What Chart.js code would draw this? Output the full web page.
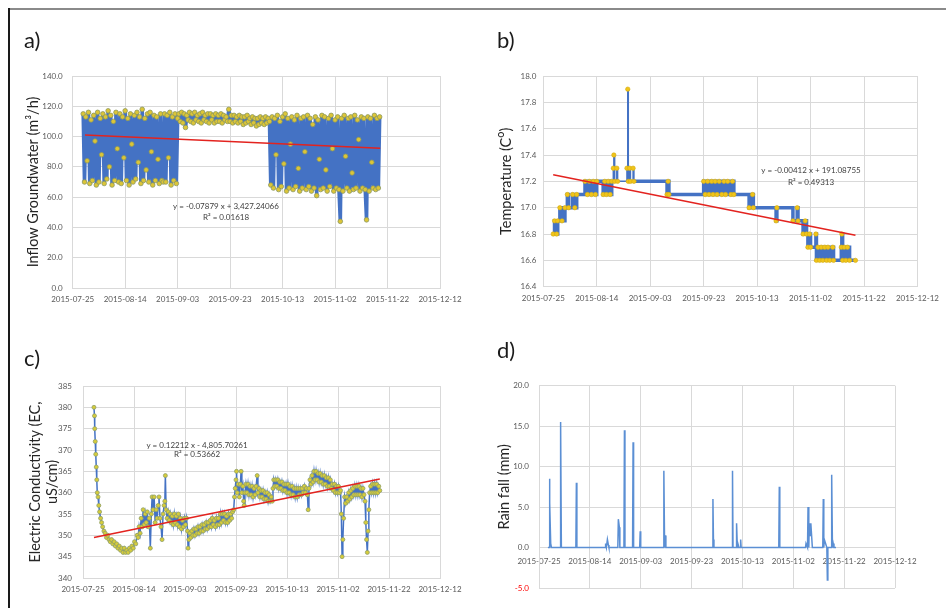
<!DOCTYPE html>
<html><head><meta charset="utf-8">
<script src="https://cdn.jsdelivr.net/npm/chart.js@4.4.1/dist/chart.umd.min.js"></script>
<style>
html,body{margin:0;padding:0;background:#fff;}
#wrap{position:relative;width:946px;height:608px;overflow:hidden;background:#fff;}
.cv{position:absolute;}
.lbl{position:absolute;font-family:Lato,'Open Sans',sans-serif;font-size:22px;color:#1a1a1a;line-height:22px;}
#topline{position:absolute;left:8px;top:8px;width:938px;height:2px;background:#8a8a8a;}
#leftline{position:absolute;left:8px;top:8px;width:2px;height:600px;background:#1a1a1a;}
</style></head><body>
<div id="wrap">
<div id="topline"></div><div id="leftline"></div>
<canvas class="cv" id="ca" width="473" height="320" style="left:0;top:0"></canvas>
<canvas class="cv" id="cb" width="473" height="320" style="left:473px;top:0"></canvas>
<canvas class="cv" id="cc" width="473" height="288" style="left:0;top:320px"></canvas>
<canvas class="cv" id="cd" width="473" height="288" style="left:473px;top:320px"></canvas>
<div class="lbl" style="left:24px;top:29px">a)</div>
<div class="lbl" style="left:497px;top:29px">b)</div>
<div class="lbl" style="left:24px;top:347px">c)</div>
<div class="lbl" style="left:497px;top:339px">d)</div>
</div>
<script>
// ---------- DATA ----------
// x values are days after 2015-07-25
const xTickLabels = ['2015-07-25','2015-08-14','2015-09-03','2015-09-23','2015-10-13','2015-11-02','2015-11-22','2015-12-12'];

// a) Inflow groundwater (m3/h), sampled every half day from day 4
const inflowStartDay = 4;
const inflowStepDays = 0.5;
const inflowValues = [
  115, 70, 113, 84, 116, 69, 111, 71, 114, 97,
  68, 116, 70, 112, 88, 115, 69, 113, 72, 117,
  80, 114, 68, 110, 71, 116, 92, 70, 115, 69,
  113, 86, 117, 71, 112, 68, 115, 95, 70, 114,
  72, 116, 83, 113, 69, 118, 71, 112, 78, 115,
  70, 116, 90, 68, 114, 71, 113, 85, 69, 115,
  71, 70,
  115, 70, 114, 86, 116, 68, 113, 71, 115, 69, 112,
  115, 110, 116, 109, 115, 106, 114, 111, 116, 110,
  115, 109, 116, 111, 114, 110, 115, 109, 116, 111,
  114, 110, 115, 109, 115, 111, 114, 109, 115, 110,
  114, 110, 115, 109, 114, 111, 113, 110, 118, 110,
  114, 109, 114, 110, 113, 109, 114, 110, 113, 108,
  113, 109, 114, 110, 112, 108, 113, 109, 112, 107,
  112, 108, 113, 109, 112, 108, 113, 109, 112, 110,
  68, 113, 66, 112, 88, 114, 65, 110, 67, 113,
  82, 115, 64, 112, 66, 95, 113, 65, 111, 67,
  114, 79, 64, 112, 66, 113, 90, 65, 114, 67,
  112, 64, 108, 66, 113, 61, 111, 85, 65, 114,
  66, 113, 78, 64, 112, 67, 114, 92, 64, 111,
  66, 113, 65, 44, 112, 64, 114, 87, 66, 112,
  64, 113, 76, 65, 114, 66, 111, 98, 64, 113,
  66, 112, 65, 45, 113, 64, 112, 83, 66, 114,
  65, 112, 66, 113
];
const inflowTrendDays = [4.7, 117.2];
const inflowTrendValues = [101.1, 92.3];

// b) Temperature (C), change points of a step series
const tempDays = [
  3.7, 4.2, 5.0, 5.4, 6.2, 7.0, 8.1, 9.0, 9.5, 11.0,
  11.8, 12.5, 15.6, 16.5, 17.2, 18.0, 18.7, 19.5, 20.0, 22.4,
  23.0, 23.6, 24.3, 25.0, 25.6, 26.2, 26.4, 26.7, 27.5, 27.8,
  31.3, 31.6, 31.8, 32.3, 32.6, 33.6, 33.9, 46.3, 46.7, 47.0,
  60.0, 60.6, 61.5, 62.0, 63.0, 63.5, 64.3, 65.0, 65.8, 66.8,
  67.6, 68.2, 69.0, 70.2, 70.8, 71.3, 77.0, 78.3, 78.6, 87.1,
  87.4, 93.4, 95.0, 95.3, 97.2, 98.0, 98.5, 99.0, 99.6, 100.0,
  102.0, 102.2, 102.8, 103.4, 104.0, 104.6, 105.3, 106.0, 106.5, 107.2,
  108.3, 108.6, 111.5, 111.7, 112.0, 112.6, 113.2, 113.8, 114.6, 116.8
];
const tempValues = [
  16.8, 16.9, 16.8, 16.9, 17.0, 16.9, 17.0, 17.1, 17.0, 17.1,
  17.0, 17.1, 17.2, 17.1, 17.2, 17.1, 17.2, 17.1, 17.2, 17.1,
  17.2, 17.1, 17.2, 17.1, 17.2, 17.3, 17.4, 17.2, 17.3, 17.2,
  17.3, 17.9, 17.2, 17.3, 17.2, 17.3, 17.2, 17.1, 17.2, 17.1,
  17.2, 17.1, 17.2, 17.1, 17.2, 17.1, 17.2, 17.1, 17.2, 17.1,
  17.2, 17.1, 17.2, 17.1, 17.2, 17.1, 17.0, 17.1, 17.0, 16.9,
  17.0, 16.9, 17.0, 16.9, 16.8, 16.9, 16.8, 16.7, 16.8, 16.7,
  16.8, 16.6, 16.7, 16.6, 16.7, 16.6, 16.7, 16.6, 16.7, 16.6,
  16.7, 16.6, 16.7, 16.8, 16.6, 16.7, 16.6, 16.7, 16.6, 16.6
];
const tempTrendDays = [3.7, 116.8];
const tempTrendValues = [17.25, 16.79];

// c) Electric conductivity (uS/cm) readings: [day, value]
const ecReadings = [
  [4.3,380],[4.5,378],[4.6,375],[4.8,372],[5.0,369],[5.2,366],[5.4,363],[5.6,360],[5.9,359],[6.2,357],
  [6.5,355.5],[6.9,354],[7.3,353],[7.7,352],[8.2,351],[8.7,350.5],[9.2,349.5],[9.7,350],[10.2,349],[10.7,348.5],
  [11.2,349],[11.7,348],[12.2,348.5],[12.7,347.5],[13.2,348],[13.7,347],[14.2,347.5],[14.7,346.5],[15.2,347],[15.7,346],
  [16.2,347],[16.7,346],[17.2,346.5],[17.7,346],[18.2,347],[18.7,346.5],[19.2,347.5],[19.7,347],[20.2,348.5],[20.7,348],
  [21.2,350],[21.6,349.5],[22.0,352],[22.4,350.5],[22.8,354],[23.2,352],[23.6,356],[24.0,352.5],[24.4,355],[24.8,353],
  [25.2,355.5],[25.6,352],[26.0,354],[26.4,347],[26.8,355],[27.1,359],[27.5,356],[27.9,359],[28.3,353],[28.7,356],
  [29.1,354],[29.5,357],[29.8,359],[30.2,354],[30.6,352],[31.0,349],[31.4,355],[31.8,357],[32.1,358],[32.3,364],
  [32.6,356],[33.0,354],[33.4,355.5],[33.8,353.5],[34.2,355],[34.6,353],[35.0,354.5],[35.4,352.5],[35.8,355],[36.2,353],
  [36.6,354.5],[37.0,352.5],[37.4,355],[37.8,352],[38.2,354],[38.6,351.5],[39.0,353.5],[39.4,352],[39.8,354],[40.2,352.5],
  [40.6,354],[41.0,351],[41.2,347],[41.5,349],[41.9,350.5],[42.3,349.5],[42.7,351],[43.1,350],[43.5,351.5],[43.9,350],
  [44.3,351.5],[44.7,350.5],[45.1,352],[45.5,350.5],[45.9,352],[46.3,351],[46.7,352.5],[47.1,351],[47.5,352.5],[47.9,351.5],
  [48.3,353],[48.7,351.5],[49.1,353],[49.5,352],[49.9,353.5],[50.3,352],[50.7,354],[51.1,352.5],[51.5,353.5],[51.9,352],
  [52.3,354],[52.7,352.5],[53.1,354],[53.5,352.5],[53.9,355],[54.3,353],[54.7,355],[55.1,353.5],[55.5,355],[55.9,353],
  [56.3,354.5],[56.7,353],[57.1,355],[57.5,353.5],[57.9,355],[58.3,354],[58.7,355.5],[59.1,356],[59.4,359],[59.7,361],
  [60.0,363],[60.2,365],[60.5,360],[60.9,362],[61.3,359],[61.7,362],[62.0,365],[62.3,360],[62.7,361.5],[63.0,358],
  [63.2,357],[63.5,360],[63.9,362],[64.3,360],[64.7,362],[65.1,359.5],[65.5,361.5],[65.9,359.5],[66.3,361.5],[66.7,359],
  [67.1,361],[67.5,359.5],[67.9,361.5],[68.3,364],[68.6,360],[69.0,361],[69.4,359],[69.8,360.5],[70.2,359],[70.6,360.5],
  [71.0,358.5],[71.4,360],[71.8,358.5],[72.2,360],[72.6,358],[73.0,359.5],[73.4,358],[73.8,359],[74.2,358],[74.5,361],
  [74.8,363],[75.2,361.5],[75.6,363],[76.0,361.5],[76.4,363],[76.8,361],[77.2,362.5],[77.6,361],[78.0,362.5],[78.4,360.5],
  [78.8,362],[79.2,360.5],[79.6,362],[80.0,360],[80.4,362],[80.8,360],[81.2,361.5],[81.6,359.5],[82.0,361.5],[82.4,359.5],
  [82.8,361],[83.2,359],[83.6,361],[84.0,359],[84.4,361],[84.8,359.5],[85.2,361],[85.6,359.5],[86.0,361],[86.4,360],
  [86.8,361.5],[87.2,360],[87.6,361],[88.0,359.5],[88.3,356],[88.6,361],[89.0,363],[89.4,362],[89.8,364],[90.2,362.5],
  [90.6,365],[91.0,363],[91.4,365],[91.8,363],[92.2,364.5],[92.6,362.5],[93.0,364.5],[93.4,362.5],[93.8,364],[94.2,362],
  [94.6,364],[95.0,362],[95.4,363.5],[95.8,361.5],[96.2,363.5],[96.6,361.5],[97.0,363],[97.4,361],[97.8,362],[98.2,360.5],
  [98.6,362],[99.0,360],[99.4,361.5],[99.8,360],[100.2,361.5],[100.6,360],[101.0,360.5],[101.3,355],[101.6,345],[101.9,349],
  [102.2,354],[102.6,359],[103.0,357.5],[103.4,359],[103.8,358],[104.2,360],[104.6,358.5],[105.0,360.5],[105.4,359],[105.8,361],
  [106.2,359.5],[106.6,361.5],[107.0,359.5],[107.4,361.5],[107.8,359.5],[108.2,361.5],[108.6,359.5],[109.0,361],[109.4,359],[109.8,361],
  [110.2,359.5],[110.6,358],[110.9,353],[111.2,349],[111.5,346],[111.8,351],[112.1,356],[112.4,360],[112.8,361.5],[113.2,360],
  [113.6,362],[114.0,360],[114.4,362],[114.8,360],[115.2,362],[115.6,360],[116.0,361.5],[116.4,360.5]
];
const ecTrendDays = [4.3, 116.4];
const ecTrendValues = [349.5, 363.2];

// d) Rain fall (mm)
const rainDays = [
  3.5, 4.0, 4.1, 4.3, 4.6, 4.9,
  8.3, 8.5, 8.8,
  14.5, 14.7, 14.9,
  26.0, 26.2, 26.5, 26.9, 27.3, 27.5,
  31.0, 31.2, 31.6, 31.8,
  33.4, 33.6, 33.8,
  36.8, 37.0, 37.2,
  39.6, 39.8, 40.0,
  48.9, 49.1, 49.4, 49.7, 49.9,
  68.2, 68.4, 68.6, 68.8,
  75.9, 76.1, 76.3, 77.5, 77.7, 78.0, 78.2, 78.6, 79.1, 79.3, 79.5,
  94.3, 94.5, 94.7,
  104.8, 105.0, 105.6, 105.8, 106.1, 106.3, 106.6, 106.9, 107.3, 107.5,
  111.6, 111.8, 112.0, 112.2, 112.7, 113.2, 113.4, 113.6,
  114.9, 115.1, 115.4, 115.7, 116.0, 116.8
];
const rainValues = [
  0, 0, 8.5, 5.5, 0.5, 0,
  0, 15.5, 0,
  0, 8.0, 0,
  0, 0.5, 0, 1.0, 0.3, 0,
  0, 3.5, 2.5, 0,
  0, 14.5, 0,
  0, 13.0, 0,
  0, 2.0, 0,
  0, 9.5, 0, 1.5, 0,
  0, 6.0, 1.0, 0,
  0, 9.5, 0, 0, 3.0, 0, 0.5, 0, 0, 1.0, 0,
  0, 7.5, 0,
  0, 0.5, 0, 5.0, 0, 3.0, 1.5, 3.0, 1.0, 0,
  0, 6.0, 0, 1.0, 0.5, 0, -4.0, 0,
  0, 9.0, 0, 0.5, 0, 0
];

// ---------- RENDER ----------
const FONT = 'Lato, "Open Sans", sans-serif';
const pts = (xs, ys) => xs.map((x, i) => ({x: x, y: ys[i]}));

const eqPlugin = {
  id: 'eqText',
  afterDatasetsDraw(chart, args, opts) {
    if (!opts.lines || !opts.lines.length) return;
    const ctx = chart.ctx;
    ctx.save();
    ctx.font = '8px ' + FONT;
    ctx.fillStyle = '#404040';
    ctx.textAlign = 'center';
    ctx.textBaseline = 'middle';
    opts.lines.forEach(l => ctx.fillText(l.text, l.x, l.y));
    ctx.restore();
  }
};
Chart.register(eqPlugin);

function makeOptions(cfg) {
  return {
    responsive: false, animation: false, events: [],
    layout: { padding: cfg.padding },
    plugins: { legend: {display: false}, tooltip: {enabled: false}, eqText: { lines: cfg.eq || [] } },
    scales: {
      x: {
        type: 'linear', min: 0, max: 140, position: cfg.xPos || 'bottom',
        ticks: { stepSize: 20, autoSkip: false, maxRotation: 0, padding: cfg.xPad, color: '#595959',
                 font: {family: FONT, size: 8}, callback: v => xTickLabels[Math.round(v / 20)] || '' },
        grid: { color: '#d9d9d9', drawTicks: false },
        border: { color: '#d9d9d9' },
        afterFit: s => { s.height = cfg.xH; }
      },
      y: {
        type: 'linear', min: cfg.yMin, max: cfg.yMax,
        ticks: { stepSize: cfg.yStep, padding: cfg.yPad, color: cfg.yColor || '#595959',
                 font: {family: FONT, size: 8}, callback: cfg.yFmt },
        grid: { color: '#d9d9d9', drawTicks: false },
        border: { color: '#d9d9d9' },
        title: { display: true, text: cfg.title, color: '#262626',
                 font: {family: FONT, size: 14.5}, padding: {top: cfg.titlePad, bottom: 0} },
        afterFit: s => { s.width = cfg.yW; }
      }
    }
  };
}

const BLUE = '#4472c4';
const RED = '#e3231f';

// a)
const inflowDays = inflowValues.map((v, i) => inflowStartDay + i * inflowStepDays);
new Chart(document.getElementById('ca'), {
  type: 'line',
  data: { datasets: [
    { data: pts(inflowTrendDays, inflowTrendValues), borderColor: RED, borderWidth: 1.5, pointRadius: 0 },
    { data: pts(inflowDays, inflowValues), borderColor: BLUE, borderWidth: 3.6, borderJoinStyle: 'bevel',
      pointRadius: 2.3, pointBackgroundColor: '#dcc537', pointBorderColor: '#8c9860', pointBorderWidth: 0.8 }
  ]},
  options: makeOptions({
    padding: {top: 76, right: 33, bottom: 8, left: 0},
    yW: 72.7, xH: 24, xPad: 7, yPad: 10,
    yMin: 0, yMax: 140, yStep: 20, yFmt: v => v.toFixed(1),
    title: 'Inflow Groundwater (m³/h)', titlePad: 24.8,
    eq: [{text: 'y = -0.07879 x + 3,427.24066', x: 226, y: 206.5}, {text: 'R² = 0.01618', x: 226, y: 217.5}]
  })
});

// b)
new Chart(document.getElementById('cb'), {
  type: 'line',
  data: { datasets: [
    { data: pts(tempTrendDays, tempTrendValues), borderColor: RED, borderWidth: 1.5, pointRadius: 0 },
    { data: pts(tempDays, tempValues), borderColor: BLUE, borderWidth: 3.5, stepped: true,
      segment: { borderWidth: c => (c.p0.parsed.y > 17.25 || c.p1.parsed.y > 17.25) ? 1.5 : 3.5 },
      pointRadius: 2.2, pointBackgroundColor: '#f0c419', pointBorderColor: '#d5ad12', pointBorderWidth: 0.6 }
  ]},
  options: makeOptions({
    padding: {top: 76, right: 28, bottom: 9.3, left: 0},
    yW: 70.3, xH: 24, xPad: 7, yPad: 7,
    yMin: 16.4, yMax: 18.0, yStep: 0.2, yFmt: v => v.toFixed(1),
    title: 'Temperature (Cᴼ)', titlePad: 25,
    eq: [{text: 'y = -0.00412 x + 191.08755', x: 338, y: 170}, {text: 'R² = 0.49313', x: 338, y: 182.5}]
  })
});

// c)
new Chart(document.getElementById('cc'), {
  type: 'line',
  data: { datasets: [
    { data: pts(ecTrendDays, ecTrendValues), borderColor: RED, borderWidth: 1.5, pointRadius: 0 },
    { data: ecReadings.map(r => ({x: r[0], y: r[1]})), borderColor: BLUE, borderWidth: 1.5,
      pointRadius: 2, pointBackgroundColor: '#d6cc3a', pointBorderColor: '#8f9f6a', pointBorderWidth: 0.8 }
  ]},
  options: makeOptions({
    padding: {top: 66, right: 33, bottom: 6, left: 0},
    yW: 83, xH: 24, xPad: 7, yPad: 11,
    yMin: 340, yMax: 385, yStep: 5, yFmt: v => String(v),
    title: ['Electric Conductivity (EC,', 'uS/cm)'], titlePad: 26.3,
    eq: [{text: 'y = 0.12212 x - 4,805.70261', x: 197, y: 125}, {text: 'R² = 0.53662', x: 197, y: 134.5}]
  })
});

// d)
new Chart(document.getElementById('cd'), {
  type: 'line',
  data: { datasets: [
    { data: pts(rainDays, rainValues), borderColor: '#5b8fd4', borderWidth: 1.5, pointRadius: 0 }
  ]},
  options: makeOptions({
    padding: {top: 65.7, right: 51, bottom: 20, left: 0},
    yW: 66, xH: 0, xPad: 9, yPad: 10, xPos: {y: 0},
    yMin: -5, yMax: 20, yStep: 5, yFmt: v => v.toFixed(1),
    yColor: c => (c.tick && c.tick.value < 0) ? '#ff0000' : '#595959',
    title: 'Rain fall (mm)', titlePad: 22.3
  })
});
</script>
</body></html>
